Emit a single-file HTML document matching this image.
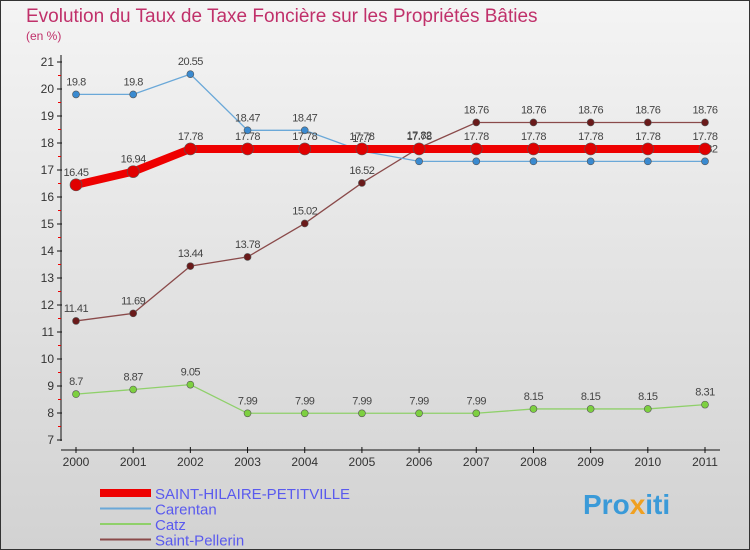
<!DOCTYPE html>
<html><head><meta charset="utf-8"><style>
body{margin:0;}
svg{display:block;font-family:"Liberation Sans",sans-serif;}
</style></head><body>
<svg width="750" height="550">
<defs><linearGradient id="bg" x1="0" y1="0" x2="0" y2="1"><stop offset="0" stop-color="#f4f4f4"/><stop offset="1" stop-color="#d2d2d2"/></linearGradient></defs>
<rect x="0.5" y="0.5" width="749" height="549" fill="url(#bg)" stroke="#333"/>
<text x="26" y="22" font-size="19" fill="#c0306a">Evolution du Taux de Taxe Foncière sur les Propriétés Bâties</text>
<text x="26" y="40" font-size="12" fill="#c0306a">(en %)</text>
<g id="axes"></g>
<g id="series"></g>
<g id="legend"></g>
<text x="583" y="514" font-size="28" font-weight="bold" fill="#3a9ad8">Pro<tspan fill="#f0a020">x</tspan>iti</text>
</svg>
<script>
const years=[2000,2001,2002,2003,2004,2005,2006,2007,2008,2009,2010,2011];
const yTicks=[7,8,9,10,11,12,13,14,15,16,17,18,19,20,21];
const saintHilaire=[16.45,16.94,17.78,17.78,17.78,17.78,17.78,17.78,17.78,17.78,17.78,17.78];
const carentan=[19.8,19.8,20.55,18.47,18.47,17.7,17.32,17.32,17.32,17.32,17.32,17.32];
const catz=[8.7,8.87,9.05,7.99,7.99,7.99,7.99,7.99,8.15,8.15,8.15,8.31];
const saintPellerin=[11.41,11.69,13.44,13.78,15.02,16.52,17.82,18.76,18.76,18.76,18.76,18.76];
const NS="http://www.w3.org/2000/svg";
const X=i=>76+i*(705-76)/(years.length-1);
const Y=v=>440-(v-7)*27;
function mk(tag,attrs,parent,txt){const e=document.createElementNS(NS,tag);for(const k in attrs)e.setAttribute(k,attrs[k]);if(txt!==undefined)e.textContent=txt;parent.appendChild(e);return e;}
const ax=document.getElementById('axes');
let a=mk('line',{x1:61,y1:55,x2:61,y2:441,stroke:'#111','stroke-width':1},ax);


a=mk('line',{x1:61,y1:450,x2:720,y2:450,stroke:'#111','stroke-width':1},ax);


yTicks.forEach(t=>{const y=Y(t);mk('line',{x1:57,y1:y,x2:62,y2:y,stroke:'#111'},ax);
if(t<21)mk('line',{x1:58,y1:y-13.5,x2:61,y2:y-13.5,stroke:'#e00'},ax);
const l=mk('text',{x:54,y:y+4,'font-size':12,fill:'#333','text-anchor':'end'},ax,String(t));

});
years.forEach((yr,i)=>{const x=X(i);mk('line',{x1:x,y1:447,x2:x,y2:453,stroke:'#111'},ax);
const l=mk('text',{x:x,y:466,'font-size':12,fill:'#333','text-anchor':'middle'},ax,String(yr));

});
const sg=document.getElementById('series');
function series(vals,color,w,r,name,dot){const g=mk('g',{},sg);


mk('polyline',{points:vals.map((v,i)=>X(i)+','+Y(v)).join(' '),fill:'none',stroke:color,'stroke-width':w},g);
vals.forEach((v,i)=>{const c=mk('circle',{cx:X(i),cy:Y(v),r:r,fill:dot,stroke:'#555','stroke-width':0.6},g);


const t=mk('text',{x:X(i),y:Y(v)-9,'font-size':11,fill:'#444','text-anchor':'middle','letter-spacing':'-0.5'},g,String(v));

});}
series(catz,'#8fd06a',1.3,3.5,'catz-series','#7dd040');
series(saintPellerin,'#8a4a4a',1.3,3.5,'saint-pellerin-series','#6a1a1a');
series(carentan,'#6aa8d8',1.3,3.5,'carentan-series','#3a8ad0');
series(saintHilaire,'#ee0000',8,6,'saint-hilaire-series','#e00000');
const lg=document.getElementById('legend');
const items=[['SAINT-HILAIRE-PETITVILLE','#ee0000',8],['Carentan','#6aa8d8',2],['Catz','#8fd06a',2],['Saint-Pellerin','#8a4a4a',2]];
items.forEach((it,i)=>{const y=493+i*15.5;const g=mk('g',{},lg);


mk('line',{x1:100,y1:y,x2:151,y2:y,stroke:it[1],'stroke-width':it[2]},g);
mk('text',{x:155,y:y+6,'font-size':15,fill:'#5a5aee'},g,it[0]);});
</script>
</body></html>
